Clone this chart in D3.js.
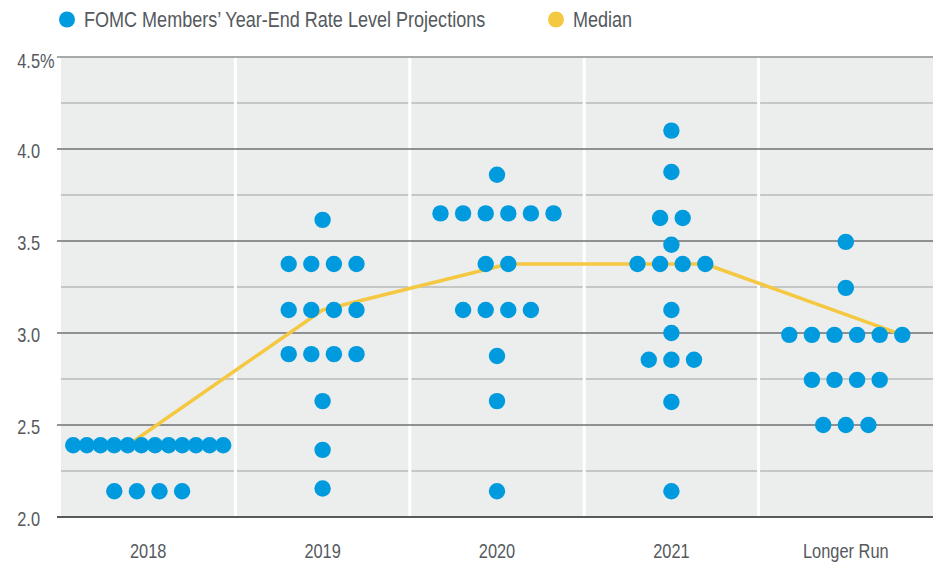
<!DOCTYPE html>
<html>
<head>
<meta charset="utf-8">
<script src="https://cdn.jsdelivr.net/npm/d3@7"></script>
<style>
	body { margin: 0; background: #ffffff; }
	svg text { font-family: "Liberation Sans", Arial, sans-serif; fill: #55595d; }
</style>
</head>
<body>
<svg id="chart" width="933" height="563"></svg>
<script>
// Categories along the bottom
var categories = ["2018", "2019", "2020", "2021", "Longer Run"];

// One value per participant
var proj2018 = [2.39, 2.39, 2.39, 2.39, 2.39, 2.39, 2.39, 2.39, 2.39, 2.39, 2.39, 2.39,
	2.14, 2.14, 2.14, 2.14];
var proj2019 = [3.615, 3.375, 3.375, 3.375, 3.375, 3.125, 3.125, 3.125, 3.125,
	2.885, 2.885, 2.885, 2.885, 2.63, 2.365, 2.155];
var proj2020 = [3.86, 3.65, 3.65, 3.65, 3.65, 3.65, 3.65, 3.375, 3.375,
	3.125, 3.125, 3.125, 3.125, 2.875, 2.63, 2.14];
var proj2021 = [4.1, 3.875, 3.625, 3.625, 3.48, 3.375, 3.375, 3.375, 3.375,
	3.125, 3.0, 2.855, 2.855, 2.855, 2.625, 2.14];
var projLonger = [3.495, 3.245, 2.99, 2.99, 2.99, 2.99, 2.99, 2.99,
	2.745, 2.745, 2.745, 2.745, 2.5, 2.5, 2.5];
var projections = [proj2018, proj2019, proj2020, proj2021, projLonger];

// Median line: value per category and which dot of that row it passes through
var medianValues = [2.39, 3.125, 3.375, 3.375, 2.99];
var medianSlot = [-1.5, 0, 0.5, 1.5, 2.5];	// offset from row centre, in dots

var yTicks = [2.0, 2.25, 2.5, 2.75, 3.0, 3.25, 3.5, 3.75, 4.0, 4.25, 4.5];

var blue = "#009ade", yellow = "#f5c842";
var narrow = "scale(0.82,1)";	// condensed look from a regular face
var plot = { left: 61, right: 933, top: 57, bottom: 517 };

var svg = d3.select("#chart");

var x = d3.scaleBand().domain(categories).range([plot.left, plot.right]).padding(0);
var y = d3.scaleLinear().domain([2, 4.5]).range([plot.bottom, plot.top]);

function spacing(n) { return n > 6 ? 150 / (n - 1) : 22.6; }
function isMajor(t) { return Math.abs(t * 2 - Math.round(t * 2)) < 1e-6; }

// Background
svg.append("rect")
	.attr("x", plot.left).attr("y", plot.top)
	.attr("width", plot.right - plot.left).attr("height", plot.bottom - plot.top)
	.attr("fill", "#eceeed");

// Minor gridlines (under separators)
svg.append("g").selectAll("line")
	.data(yTicks.filter(function(t){ return !isMajor(t); }))
	.join("line")
	.attr("x1", plot.left).attr("x2", plot.right)
	.attr("y1", function(d){ return y(d); }).attr("y2", function(d){ return y(d); })
	.attr("stroke", "#b9baba").attr("stroke-width", 1.5);

// White column separators
svg.append("g").selectAll("line")
	.data(categories.slice(0, -1))
	.join("line")
	.attr("x1", function(d){ return x(d) + x.bandwidth(); })
	.attr("x2", function(d){ return x(d) + x.bandwidth(); })
	.attr("y1", plot.top).attr("y2", plot.bottom)
	.attr("stroke", "#ffffff").attr("stroke-width", 3);

// Major gridlines (over separators, extend as ticks)
svg.append("g").selectAll("line")
	.data(yTicks.filter(isMajor))
	.join("line")
	.attr("x1", 57).attr("x2", plot.right)
	.attr("y1", function(d){ return y(d); }).attr("y2", function(d){ return y(d); })
	.attr("stroke", function(d){ return d === 2 ? "#58595b" : (d === 4.5 ? "#8d8e90" : "#6f7072"); })
	.attr("stroke-width", function(d){ return d === 2 ? 2 : 1.3; });

// Y axis labels
var yAxis = d3.axisLeft(y)
	.tickValues(yTicks.filter(isMajor))
	.tickSize(0)
	.tickPadding(0)
	.tickFormat(d3.format(".1f"));
var yg = svg.append("g").attr("transform", "translate(40,2)").call(yAxis);
yg.select(".domain").remove();
yg.selectAll("text")
	.attr("font-family", null).attr("fill", null)
	.attr("transform", narrow)
	.style("font-size", "20px");
yg.selectAll(".tick").filter(function(d){ return d === 4.5; })
	.attr("transform", "translate(0," + (y(4.5) + 2.5) + ")")
	.append("text")
	.attr("x", 0).attr("dy", "0.32em")
	.attr("text-anchor", "start")
	.attr("transform", narrow)
	.style("font-size", "20px")
	.text("%");

// X axis labels
var xAxis = d3.axisBottom(x).tickSize(0).tickPadding(0);
var xg = svg.append("g").attr("transform", "translate(0,544)").call(xAxis);
xg.select(".domain").remove();
xg.selectAll("text")
	.attr("font-family", null).attr("fill", null)
	.attr("dy", "0.71em")
	.attr("transform", narrow)
	.style("font-size", "20px");

// Row layout: group equal values, centre each row in its column
function rows(values) {
	return d3.groups(values, function(v){ return v; })
		.map(function(g){ return { value: g[0], n: g[1].length }; });
}
var dots = [];
categories.forEach(function(cat, ci) {
	rows(projections[ci]).forEach(function(r) {
		var s = spacing(r.n);
		for (var i = 0; i < r.n; i++) {
			dots.push({ cat: cat, value: r.value, off: (i - (r.n - 1) / 2) * s });
		}
	});
});

// Median line
var medianPts = categories.map(function(cat, ci) {
	var n = projections[ci].filter(function(v){ return v === medianValues[ci]; }).length;
	return { cat: cat, value: medianValues[ci], off: medianSlot[ci] * spacing(n) };
});
var line = d3.line()
	.x(function(d){ return x(d.cat) + x.bandwidth() / 2 + d.off; })
	.y(function(d){ return y(d.value); });
svg.append("path")
	.datum(medianPts)
	.attr("d", line)
	.attr("fill", "none")
	.attr("stroke", yellow)
	.attr("stroke-width", 3.5)
	.attr("stroke-linejoin", "round");

// Dots
svg.append("g").selectAll("circle")
	.data(dots)
	.join("circle")
	.attr("cx", function(d){ return x(d.cat) + x.bandwidth() / 2 + d.off; })
	.attr("cy", function(d){ return y(d.value); })
	.attr("r", 8.2)
	.attr("fill", blue);

// Legend
var legendItems = [
	{ label: "FOMC Members\u2019 Year-End Rate Level Projections", color: blue, x: 67 },
	{ label: "Median", color: yellow, x: 556 }
];
var lg = svg.append("g").selectAll("g")
	.data(legendItems)
	.join("g")
	.attr("transform", function(d){ return "translate(" + d.x + ",19.5)"; });
lg.append("circle").attr("r", 8).attr("fill", function(d){ return d.color; });
lg.append("g")
	.attr("transform", "translate(17,7.5)")
	.append("text")
	.attr("transform", narrow)
	.style("font-size", "22px")
	.text(function(d){ return d.label; });
</script>
</body>
</html>
